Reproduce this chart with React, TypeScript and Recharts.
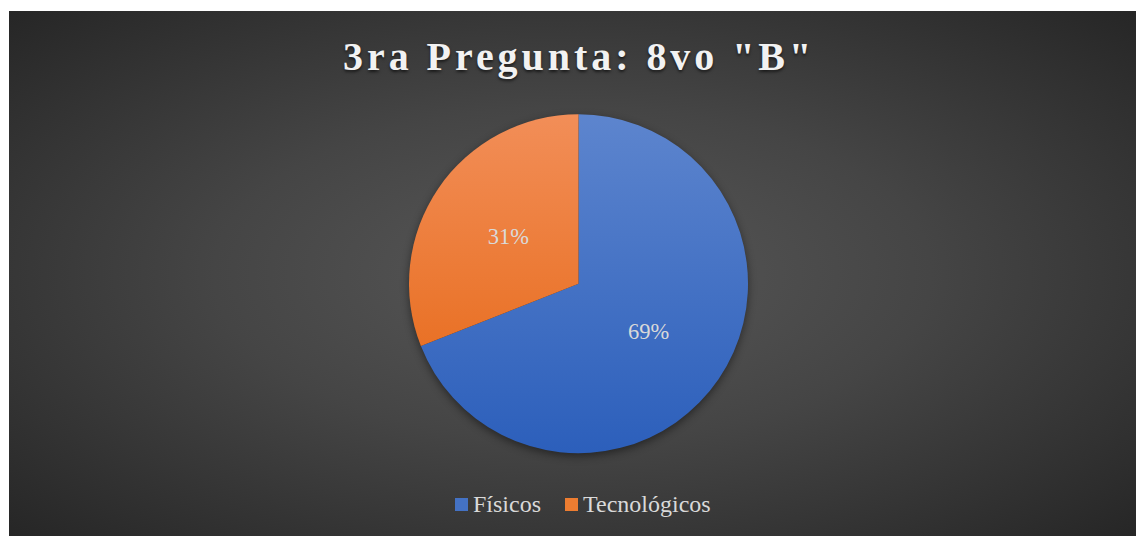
import { Cell, Legend, Pie, PieChart } from 'recharts';

const categories = ['Físicos', 'Tecnológicos'];
const values = [69, 31];
const colors = ['url(#gradBlue)', 'url(#gradOrange)'];
const legendColors = ['#4472C4', '#ED7D31'];

const title = '3ra Pregunta: 8vo "B"';
const W = 1127;
const H = 525;
const RAD = Math.PI / 180;
const SERIF = '"Liberation Serif", "Times New Roman", Times, "DejaVu Serif", serif';

const data = categories.map((name, i) => ({ name, value: values[i] }));

function renderLabel(props: any) {
  const { cx, cy, midAngle, outerRadius, percent } = props;
  const r = outerRadius * 0.5;
  const x = cx + r * Math.cos(-midAngle * RAD);
  const y = cy + r * Math.sin(-midAngle * RAD);
  return (
    <text
      x={x}
      y={y}
      textAnchor="middle"
      dominantBaseline="central"
      fill="#d9d9d9"
      style={{ fontSize: 22.5, fontFamily: SERIF }}
    >
      {`${Math.round(percent * 100)}%`}
    </text>
  );
}

function LegendContent() {
  return (
    <div
      style={{
        display: 'flex',
        alignItems: 'center',
        paddingLeft: 446,
        fontFamily: SERIF,
        fontSize: 24,
        lineHeight: '24px',
        color: '#d9d9d9',
      }}
    >
      {categories.map((c, i) => (
        <div key={c} style={{ display: 'flex', alignItems: 'center', marginRight: 24 }}>
          <span
            style={{ width: 13, height: 13, background: legendColors[i], marginRight: 5, display: 'inline-block' }}
          />
          <span>{c}</span>
        </div>
      ))}
    </div>
  );
}

export default function App() {
  return (
    <div
      style={{
        position: 'absolute',
        left: 9,
        top: 11,
        width: W,
        height: H,
        background: 'radial-gradient(ellipse farthest-corner at 50% 50%, #585858 0%, #454545 45%, #262626 100%)',
        overflow: 'hidden',
      }}
    >
      <style>{'.recharts-pie { filter: drop-shadow(0px 3px 4px rgba(0,0,0,0.45)); }'}</style>
      <div
        style={{
          position: 'absolute',
          left: 334,
          top: 25.5,
          whiteSpace: 'nowrap',
          fontFamily: SERIF,
          fontWeight: 'bold',
          fontSize: 40,
          lineHeight: '40px',
          letterSpacing: 3.95,
          color: '#f2f2f2',
          textShadow: '0px 2px 3px rgba(0,0,0,0.6)',
        }}
      >
        {title}
      </div>
      <PieChart
        width={W}
        height={H}
        margin={{ top: 0, right: 0, bottom: 0, left: 0 }}
        style={{ position: 'absolute', left: 0, top: 0 }}
      >
        <defs>
          <linearGradient id="gradBlue" gradientUnits="userSpaceOnUse" x1="0" y1="103" x2="0" y2="442">
            <stop offset="0%" stopColor="#5d85ce" />
            <stop offset="100%" stopColor="#2c5fbb" />
          </linearGradient>
          <linearGradient id="gradOrange" gradientUnits="userSpaceOnUse" x1="0" y1="103" x2="0" y2="442">
            <stop offset="0%" stopColor="#f28e58" />
            <stop offset="100%" stopColor="#e5640f" />
          </linearGradient>
        </defs>
        <Pie
          data={data}
          dataKey="value"
          nameKey="name"
          cx={569.5}
          cy={272.7}
          outerRadius={169.5}
          startAngle={90}
          endAngle={-270}
          stroke="none"
          label={renderLabel}
          labelLine={false}
          isAnimationActive={false}
        >
          {data.map((_, i) => (
            <Cell key={i} fill={colors[i]} />
          ))}
        </Pie>
        <Legend
          content={<LegendContent />}
          wrapperStyle={{ position: 'absolute', top: 481, left: 0, width: W }}
        />
      </PieChart>
    </div>
  );
}
